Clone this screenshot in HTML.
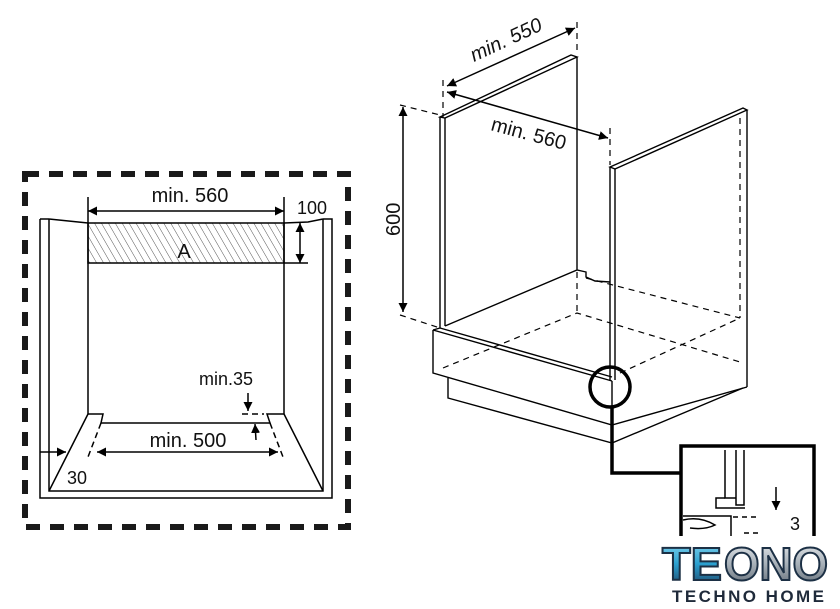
<!DOCTYPE html>
<html><head><meta charset="utf-8"><style>
html,body{margin:0;padding:0;background:#fff}
svg{display:block}
text{font-family:"Liberation Sans",sans-serif}
</style></head><body>
<svg width="840" height="609" viewBox="0 0 840 609" xmlns="http://www.w3.org/2000/svg">
<defs>
<marker id="a" viewBox="0 0 10 10" refX="10" refY="5" markerWidth="9" markerHeight="9" orient="auto-start-reverse" markerUnits="userSpaceOnUse"><path d="M0,0 L10,5 L0,10z" fill="#000"/></marker>
<pattern id="h" width="6" height="6" patternUnits="userSpaceOnUse" patternTransform="rotate(-30)"><line x1="0" y1="0" x2="0" y2="6" stroke="#555" stroke-width="1"/></pattern>
<linearGradient id="lg" x1="0" y1="0" x2="0" y2="1"><stop offset="0" stop-color="#8fdaf2"/><stop offset="0.5" stop-color="#2aa0d0"/><stop offset="1" stop-color="#1c3a5c"/></linearGradient>
<linearGradient id="lg2" x1="0" y1="0" x2="0" y2="1"><stop offset="0" stop-color="#eef1f3"/><stop offset="0.5" stop-color="#a7b0b8"/><stop offset="1" stop-color="#5a6570"/></linearGradient>
</defs>
<!-- left dashed box -->
<rect x="25" y="174" width="323" height="353" fill="none" stroke="#1a1a1a" stroke-width="6" stroke-dasharray="14,10"/>
<g fill="none" stroke="#000" stroke-width="1.5">
<path d="M49,219 L88,223 M284,223 L308,222 L323,219"/>
<path d="M40,219 H49 M323,219 H332 V498 H40 V219"/>
<path d="M49,219 V491 H323 V219"/>
<rect x="88" y="223" width="196" height="40" fill="url(#h)"/>
<path d="M88,197 V414 M284,197 V414"/>
<path d="M88,414 L49,491 M284,414 L323,491"/>
<path d="M88,414 H103 L101,423 H270 L267,414 H284"/>
<path d="M101,423 L88,457 M270,423 L283,457 M242,414 H264" stroke-dasharray="6,4"/>
<line x1="88" y1="211" x2="284" y2="211" marker-start="url(#a)" marker-end="url(#a)"/>
<line x1="300" y1="223" x2="300" y2="263" marker-start="url(#a)" marker-end="url(#a)"/>
<line x1="284" y1="263" x2="308" y2="263"/>
<line x1="97" y1="452" x2="278" y2="452" marker-start="url(#a)" marker-end="url(#a)"/>
<line x1="248" y1="393" x2="248" y2="411" marker-end="url(#a)"/>
<line x1="256" y1="440" x2="255" y2="424" marker-end="url(#a)"/>
<line x1="40" y1="452" x2="66" y2="452" marker-end="url(#a)"/>
</g>
<g style="fill:#111">
<text x="190" y="202" font-size="20" text-anchor="middle">min. 560</text>
<text x="297" y="214" font-size="18">100</text>
<text x="184" y="258" font-size="20" text-anchor="middle">A</text>
<text x="199" y="385" font-size="18">min.35</text>
<text x="188" y="447" font-size="20" text-anchor="middle">min. 500</text>
<text x="67" y="484" font-size="18">30</text>
</g>

<!-- right cabinet -->
<g fill="none" stroke="#000" stroke-width="1.4">
<path d="M440,117 L571,55 L577,57 L445,118 Z"/>
<path d="M440,117 V328 M445,118 V326"/>
<path d="M577,57 V270 M445,326 L577,270 L586,272 L586,277 L595,281 L610,282"/>
<path d="M610,167 L743,108 L747,110 L615,169 Z"/>
<path d="M610,167 V380 M615,169 V380"/>
<path d="M747,110 V387"/>
<path d="M433,330 L440,328 M433,330 V373 L612,425 L747,387"/>
<path d="M433,330 L612,381 M440,328 L612,377"/>
<path d="M612,381 V443"/>
<path d="M448,378 V398 L612,443 L743,388"/>
</g>
<g fill="none" stroke="#000" stroke-width="1.2" stroke-dasharray="6,5">
<path d="M740,118 V318"/>
<path d="M577,272 V313 M443,368 L577,313 L740,362 M620,373 L740,318 M586,278 L740,318"/>
<path d="M577,22 V55 M443,80 V117 M610,128 V165"/>
<path d="M400,105 L440,115 M400,315 L440,328"/>
</g>
<g stroke="#000" stroke-width="1.5">
<line x1="447" y1="86" x2="575" y2="28" marker-start="url(#a)" marker-end="url(#a)"/>
<line x1="447" y1="92" x2="608" y2="138" marker-start="url(#a)" marker-end="url(#a)"/>
<line x1="403" y1="107" x2="403" y2="312" marker-start="url(#a)" marker-end="url(#a)"/>
</g>
<g style="fill:#111">
<text font-size="20" font-style="italic" transform="translate(474,62) rotate(-25)">min. 550</text>
<text font-size="20" transform="translate(490,130) rotate(15)">min. 560</text>
<text font-size="20" transform="translate(400,236) rotate(-90)">600</text>
</g>

<!-- detail circle and box -->
<circle cx="610" cy="387" r="20" fill="none" stroke="#000" stroke-width="3.5"/>
<path d="M612,407 V473 H681" fill="none" stroke="#000" stroke-width="3.5"/>
<path d="M681,536 V446 H814 V536" fill="none" stroke="#000" stroke-width="3.5"/>
<g fill="none" stroke="#000" stroke-width="1.5">
<path d="M725,450 V498 H736 V450 M736,450 V505 H744 V450"/>
<path d="M725,498 H716 V508 H745"/>
<path d="M683,516 H731 V536 M683,520 Q700,516 715,525 Q705,530 690,528"/>
<path d="M733,517 H760 M744,533 H760" stroke-dasharray="5,4"/>
<line x1="776" y1="487" x2="776" y2="510" marker-end="url(#a)"/>
</g>
<text x="790" y="530" font-size="18" style="fill:#111">3</text>
<rect x="660" y="537" width="180" height="72" fill="#fff"/>
<!-- logo -->
<text x="662" y="580" font-size="46" font-weight="bold" style="fill:url(#lg);stroke:#1c3045;stroke-width:2" textLength="60" lengthAdjust="spacingAndGlyphs">TE</text>
<text x="724" y="580" font-size="46" font-weight="bold" style="fill:url(#lg2);stroke:#1c3045;stroke-width:2" textLength="104" lengthAdjust="spacingAndGlyphs">ONO</text>
<text x="672" y="602" font-size="17" font-weight="bold" style="fill:#1f2a3a" textLength="152">TECHNO HOME</text>
</svg>
</body></html>
